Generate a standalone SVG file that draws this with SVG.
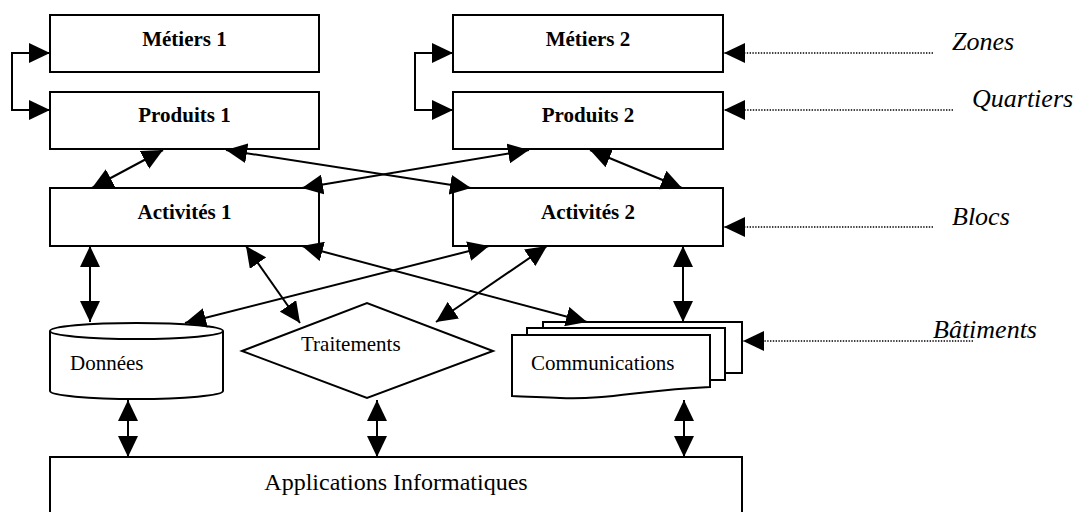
<svg xmlns="http://www.w3.org/2000/svg" width="1079" height="512" viewBox="0 0 1079 512">
<style>
.box{fill:#fff;stroke:#000;stroke-width:2}
.bt{font-family:"Liberation Serif",serif;font-weight:bold;font-size:21px;text-anchor:middle;fill:#000}
.rt{font-family:"Liberation Serif",serif;font-size:21px;fill:#000}
.it{font-family:"Liberation Serif",serif;font-style:italic;font-size:26px;fill:#000}
.c{fill:none;stroke:#000;stroke-width:2;marker-start:url(#ah);marker-end:url(#ah)}
.d{fill:none;stroke:#000;stroke-width:1.6;stroke-dasharray:1.4 1.4;marker-end:url(#ah)}
</style>
<defs>
<marker id="ah" markerUnits="userSpaceOnUse" markerWidth="21" markerHeight="20" viewBox="0 0 21 20" refX="21" refY="10" orient="auto-start-reverse">
<path d="M0,0 L21,10 L0,20 Z" fill="#000"/>
</marker>
</defs>
<g id="metiers1"><rect class="box" x="50" y="15" width="269" height="57"/><text class="bt" x="184.5" y="46">Métiers 1</text></g>
<g id="produits1"><rect class="box" x="50" y="92" width="269" height="57"/><text class="bt" x="184.5" y="122">Produits 1</text></g>
<g id="activites1"><rect class="box" x="50" y="188" width="269" height="58"/><text class="bt" x="184.5" y="219">Activités 1</text></g>
<g id="metiers2"><rect class="box" x="453" y="15" width="270" height="57"/><text class="bt" x="588" y="46">Métiers 2</text></g>
<g id="produits2"><rect class="box" x="453" y="92" width="270" height="57"/><text class="bt" x="588" y="122">Produits 2</text></g>
<g id="activites2"><rect class="box" x="453" y="188" width="270" height="58"/><text class="bt" x="588" y="219">Activités 2</text></g>
<g id="donnees">
<path class="box" d="M50,331 V391 A86.5,8 0 0 0 223,391 V331 A86.5,8 0 0 0 50,331 Z"/>
<path d="M50,331 A86.5,8 0 0 0 223,331" fill="none" stroke="#000" stroke-width="2"/>
<text class="rt" x="70" y="370">Données</text>
</g>
<g id="traitements"><polygon class="box" points="242,351 367,303 493,351 367,398"/><text class="rt" x="301" y="351">Traitements</text></g>
<g id="communications">
<path class="box" d="M543,322 H742 V373 H725 V380 H710 V335 H543 Z"/>
<path class="box" d="M527,328 H725 V380 H710 V335 H527 Z"/>
<path class="box" d="M512,335 H710 V387 C640,390 610,400 560,398 C540,397 525,397 512,396 Z"/>
<text class="rt" x="531" y="370">Communications</text>
</g>
<g id="applications"><rect class="box" x="50" y="457" width="692" height="63"/><text class="rt" x="396" y="490" style="font-size:24px;text-anchor:middle">Applications Informatiques</text></g>
<g id="zones"><text class="it" x="952" y="50">Zones</text></g>
<g id="quartiers"><text class="it" x="972" y="107">Quartiers</text></g>
<g id="blocs"><text class="it" x="952" y="225">Blocs</text></g>
<g id="batiments"><text class="it" x="933" y="338">Bâtiments</text></g>
<g id="connectors">
<path class="c" d="M50,53 H12 V110 H50"/>
<path class="c" d="M453,53 H415 V110 H453"/>
<line class="c" x1="163" y1="150" x2="92" y2="188"/>
<line class="c" x1="226" y1="150" x2="471" y2="188"/>
<line class="c" x1="529" y1="150" x2="302" y2="188"/>
<line class="c" x1="590" y1="150" x2="682" y2="188"/>
<line class="c" x1="90" y1="246" x2="90" y2="322"/>
<line class="c" x1="246" y1="246" x2="300" y2="323"/>
<line class="c" x1="302" y1="246" x2="587" y2="322"/>
<line class="c" x1="489" y1="246" x2="185" y2="323"/>
<line class="c" x1="547" y1="246" x2="436" y2="322"/>
<line class="c" x1="683" y1="246" x2="683" y2="322"/>
<line class="c" x1="128" y1="400" x2="128" y2="457"/>
<line class="c" x1="377" y1="400" x2="377" y2="457"/>
<line class="c" x1="684" y1="400" x2="684" y2="457"/>
<line class="d" x1="933" y1="53" x2="724" y2="53"/>
<line class="d" x1="953" y1="110" x2="724" y2="110"/>
<line class="d" x1="933" y1="227" x2="724" y2="227"/>
<line class="d" x1="973" y1="341" x2="743" y2="341"/>
</g>
</svg>
